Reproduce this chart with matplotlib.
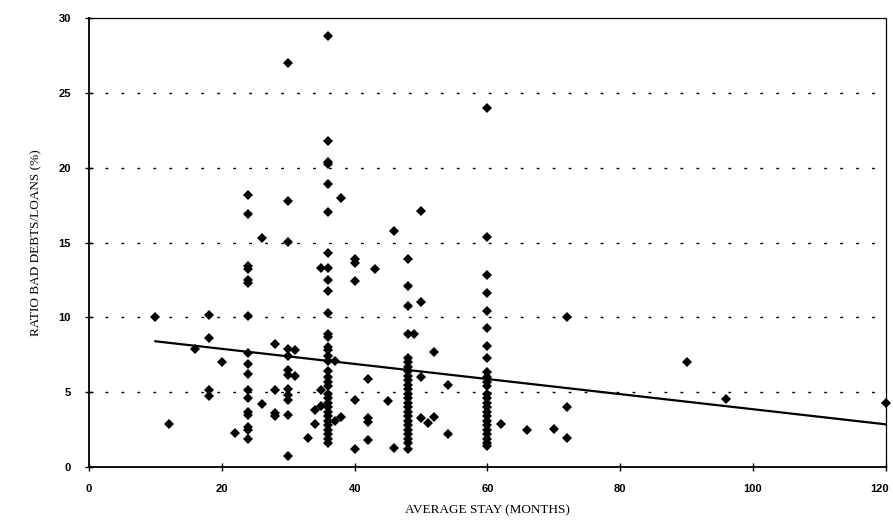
import numpy as np
import matplotlib
matplotlib.use("Agg")
import matplotlib.pyplot as plt
import matplotlib.transforms as mtransforms

# bad debt ratios (%)
stay_24 = [18.2, 16.9, 13.45, 13.2, 12.5, 12.3, 10.1, 7.6, 6.85, 6.2, 5.15, 4.6, 3.7, 3.5, 2.7, 2.5, 1.85]
stay_30 = [27.0, 17.8, 15.05, 7.9, 7.4, 6.5, 6.15, 5.2, 4.8, 4.5, 3.5, 0.75]
stay_36 = [28.8, 21.8, 20.4, 20.25, 18.9, 17.05, 14.3, 13.3, 12.5, 11.75, 10.3, 8.9, 8.7, 8.0, 7.8,
           7.4, 7.1, 6.4, 6.0, 5.7, 5.4, 4.9, 4.6, 4.3, 4.0, 3.7, 3.4, 3.1, 2.8, 2.5, 2.2, 1.9, 1.6]
stay_48 = [13.9, 12.1, 10.75, 8.9, 7.3, 7.0, 6.7, 6.4, 6.1, 5.8, 5.5, 5.2, 4.9, 4.6, 4.3, 4.0,
           3.7, 3.4, 3.1, 2.8, 2.5, 2.2, 1.9, 1.6, 1.2]
stay_60 = [24.0, 15.4, 12.8, 11.6, 10.4, 9.3, 8.1, 7.3, 6.35, 6.0, 5.7, 5.4, 4.9, 4.6, 4.3, 4.0,
           3.7, 3.4, 3.1, 2.8, 2.5, 2.2, 1.9, 1.6, 1.4]

# remaining scattered points
other_stay = [10, 12, 16, 18, 18, 18, 18, 20, 22, 26, 26, 28, 28, 28, 28, 31, 31, 33, 34, 34,
              35, 35, 35, 37, 37, 38, 38, 40, 40, 40, 40, 40, 42, 42, 42, 42, 43, 45, 46, 46,
              49, 50, 50, 50, 50, 51, 52, 52, 54, 54, 62, 66, 70, 72, 72, 72, 90, 96, 120]
other_ratio = [10.0, 2.85, 7.9, 10.15, 8.6, 5.15, 4.75, 7.0, 2.25, 15.3, 4.2, 8.2, 5.15, 3.6, 3.4, 7.8, 6.1, 1.95, 3.8, 2.85,
               13.3, 5.15, 4.1, 7.1, 3.1, 18.0, 3.35, 13.9, 13.6, 12.4, 4.5, 1.2, 5.85, 3.25, 3.0, 1.8, 13.2, 4.4, 15.75, 1.3,
               8.9, 17.1, 11.05, 6.0, 3.3, 2.95, 7.7, 3.35, 5.5, 2.2, 2.9, 2.5, 2.55, 10.0, 4.0, 1.95, 7.0, 4.55, 4.25]

# fitted trend line end points
trend_x = [10, 120]
trend_y = [8.4, 2.85]

x = np.concatenate([[24] * len(stay_24), [30] * len(stay_30), [36] * len(stay_36),
                    [48] * len(stay_48), [60] * len(stay_60), other_stay])
y = np.concatenate([stay_24, stay_30, stay_36, stay_48, stay_60, other_ratio])

fig = plt.figure(figsize=(8.93, 5.24), dpi=100)
ax = fig.add_axes([0.0997, 0.1088, 0.8923, 0.8568])

for yy in [5, 10, 15, 20, 25]:
    ax.axhline(yy, color="black", lw=1.0, ls=(0, (2, 9.5)), zorder=1)

ax.plot(x, y, "D", color="black", ms=5, mew=0, clip_on=False, zorder=3)
ax.plot(trend_x, trend_y, color="black", lw=1.6, zorder=2)

ax.set_xlim(0, 120)
ax.set_ylim(0, 30)
ax.set_xticks(range(0, 121, 20))
ax.set_yticks(range(0, 31, 5))

for s in ["left", "bottom"]:
    ax.spines[s].set_linewidth(1.3)
ax.spines["top"].set_linestyle((0, (1, 1)))
ax.spines["top"].set_linewidth(0.9)
ax.spines["right"].set_linestyle((0, (1, 1)))
ax.spines["right"].set_linewidth(0.9)

ax.tick_params(direction="inout", length=6, width=1, labelsize=8)
for lab in ax.get_xticklabels() + ax.get_yticklabels():
    lab.set_fontfamily("Liberation Sans")
    lab.set_fontweight("bold")
ax.tick_params(axis="y", pad=10)
ax.tick_params(axis="x", pad=9)

# keep the last x label inside the canvas
last = ax.get_xticklabels()[-1]
last.set_transform(last.get_transform() + mtransforms.ScaledTranslation(-6 / 100, 0, fig.dpi_scale_trans))

ax.set_xlabel("AVERAGE STAY (MONTHS)", family="Liberation Serif", fontsize=9.5, labelpad=8)
ax.set_ylabel("RATIO BAD DEBTS/LOANS (%)", family="Liberation Serif", fontsize=9.5, labelpad=12)

fig.savefig("out.png", dpi=100)
